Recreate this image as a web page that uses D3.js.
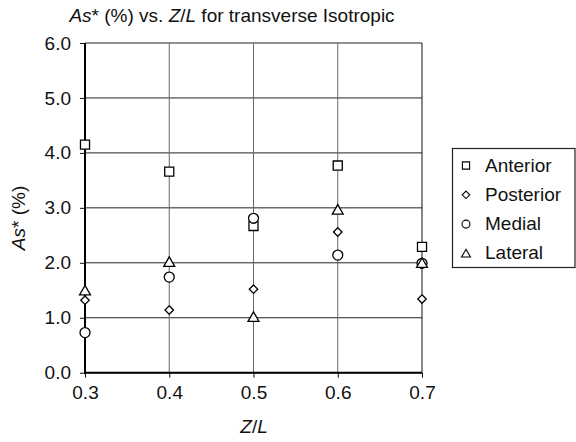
<!DOCTYPE html>
<html><head><meta charset="utf-8">
<script src="https://cdn.jsdelivr.net/npm/d3@7"></script>
<style>body{margin:0;background:#fff}svg{display:block}text{font-family:"Liberation Sans",Arial,sans-serif;fill:#111}</style>
</head><body>
<svg id="c" width="576" height="442"></svg>
<script>
const zl = [0.3, 0.4, 0.5, 0.6, 0.7];
const anterior  = [4.15, 3.66, 2.67, 3.77, 2.29];
const posterior = [1.32, 1.14, 1.52, 2.56, 1.34];
const medial    = [0.73, 1.74, 2.81, 2.14, 1.99];
const lateral   = [1.50, 2.02, 1.02, 2.97, 2.00];
const seriesNames = ["Anterior", "Posterior", "Medial", "Lateral"];
const seriesSymbols = ["square", "diamond", "circle", "triangle"];
const yTicks = [0, 1, 2, 3, 4, 5, 6];

const svg = d3.select("#c");
const L = 85, R = 422, T = 43, B = 372.7;
const x = d3.scaleLinear().domain([0.3, 0.7]).range([L, R]);
const y = d3.scaleLinear().domain([0, 6]).range([B, T]);

// gridlines
svg.append("g").selectAll("line").data(yTicks).join("line")
  .attr("x1", L).attr("x2", R).attr("y1", d => y(d)).attr("y2", d => y(d))
  .attr("stroke", "#222").attr("stroke-width", 1);
svg.append("g").selectAll("line").data(zl).join("line")
  .attr("y1", T).attr("y2", B).attr("x1", d => x(d)).attr("x2", d => x(d))
  .attr("stroke", d => d === 0.7 ? "#111" : "#666").attr("stroke-width", 1);

// axes
const yAxis = d3.axisLeft(y).tickValues(yTicks).tickFormat(d3.format(".1f")).tickSize(5).tickPadding(9);
const gy = svg.append("g").attr("transform", `translate(${L},0)`).call(yAxis);
const xAxis = d3.axisBottom(x).tickValues(zl).tickFormat(d3.format(".1f")).tickSize(5).tickPadding(8);
const gx = svg.append("g").attr("transform", `translate(0,${B})`).call(xAxis);
[gy, gx].forEach(g => {
  g.select(".domain").remove();
  g.selectAll("line").attr("stroke", "#111");
  g.selectAll("text").attr("font-size", 19).attr("fill", "#111")
    .style("font-family", '"Liberation Sans",Arial,sans-serif');
});
svg.append("line").attr("x1", L).attr("x2", L).attr("y1", T).attr("y2", B + 1)
  .attr("stroke", "#000").attr("stroke-width", 2);
svg.append("line").attr("x1", L - 1).attr("x2", R).attr("y1", B).attr("y2", B)
  .attr("stroke", "#000").attr("stroke-width", 2);

// markers
const squareDiamond = {draw(ctx, size) { const h = Math.sqrt(size / 2); ctx.moveTo(0, -h); ctx.lineTo(h, 0); ctx.lineTo(0, h); ctx.lineTo(-h, 0); ctx.closePath(); }};
const symMap = {square: d3.symbolSquare, diamond: squareDiamond, circle: d3.symbolCircle, triangle: d3.symbolTriangle};
const symSize = {square: 82, diamond: 36, circle: 78, triangle: 52};
const allSeries = [anterior, posterior, medial, lateral];
allSeries.forEach((vals, i) => {
  const s = seriesSymbols[i];
  svg.append("g").selectAll("path").data(vals).join("path")
    .attr("d", d3.symbol().type(symMap[s]).size(symSize[s]))
    .attr("transform", (d, j) => `translate(${x(zl[j])},${y(d) + (s === "triangle" ? 1.5 : 0)})`)
    .attr("fill", "#fff").attr("stroke", "#000").attr("stroke-width", 1.3);
});

// title
const title = svg.append("text").attr("x", 232).attr("y", 22).attr("text-anchor", "middle").attr("font-size", 19);
title.append("tspan").attr("font-style", "italic").text("As");
title.append("tspan").text("* (%) vs. ");
title.append("tspan").attr("font-style", "italic").text("Z");
title.append("tspan").text("/");
title.append("tspan").attr("font-style", "italic").text("L");
title.append("tspan").text(" for transverse Isotropic");

// y title
const yt = svg.append("text").attr("transform", "translate(25,218) rotate(-90)").attr("text-anchor", "middle").attr("font-size", 19);
yt.append("tspan").attr("font-style", "italic").text("As");
yt.append("tspan").text("* (%)");

// x title
const xt = svg.append("text").attr("x", 254).attr("y", 433).attr("text-anchor", "middle").attr("font-size", 19);
xt.append("tspan").attr("font-style", "italic").text("Z");
xt.append("tspan").text("/");
xt.append("tspan").attr("font-style", "italic").text("L");

// legend
const lg = svg.append("g");
lg.append("rect").attr("x", 452.5).attr("y", 148.5).attr("width", 122.5).attr("height", 119)
  .attr("fill", "#fff").attr("stroke", "#222").attr("stroke-width", 1.2);
const legSize = {square: 52, diamond: 28, circle: 50, triangle: 34};
seriesNames.forEach((n, i) => {
  const cy = 164.5 + i * 29.3;
  const s = seriesSymbols[i];
  lg.append("path").attr("d", d3.symbol().type(symMap[s]).size(legSize[s]))
    .attr("transform", `translate(466,${cy + 1 + (s === "triangle" ? 1 : 0)})`)
    .attr("fill", "#fff").attr("stroke", "#000").attr("stroke-width", 1.1);
  lg.append("text").attr("x", 485).attr("y", cy + 7).attr("font-size", 19).text(n);
});
</script>
</body></html>
